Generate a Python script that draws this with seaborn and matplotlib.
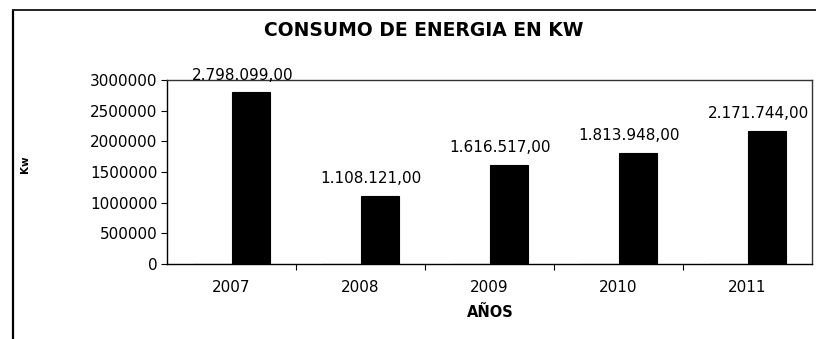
import matplotlib
matplotlib.use("Agg")
import matplotlib.pyplot as plt
from matplotlib.lines import Line2D
from matplotlib.ticker import FixedLocator, FuncFormatter
import seaborn as sns
import pandas as pd

# Data: the year column is charted as its own series next to the consumption
years = ["2007", "2008", "2009", "2010", "2011"]
year_values = [2007, 2008, 2009, 2010, 2011]
consumo_kw = [2798099.00, 1108121.00, 1616517.00, 1813948.00, 2171744.00]
value_labels = ["2.798.099,00", "1.108.121,00", "1.616.517,00", "1.813.948,00", "2.171.744,00"]
y_ticks = [0, 500000, 1000000, 1500000, 2000000, 2500000, 3000000]

df = pd.DataFrame({
    "AÑOS": years * 2,
    "serie": ["AÑOS"] * len(years) + ["Kw"] * len(years),
    "valor": year_values + consumo_kw,
})

sns.set_theme(style="white")
plt.rcParams["font.family"] = ["DejaVu Sans"]

fig = plt.figure(figsize=(8.16, 3.39), dpi=100)
ax = fig.add_axes([167 / 816, 1 - 264 / 339, (812 - 167) / 816, (264 - 80) / 339])

sns.barplot(data=df, x="AÑOS", y="valor", hue="serie", order=years,
            palette=["black", "black"], width=0.59, saturation=1,
            edgecolor="black", linewidth=0.8, legend=False, ax=ax)

ax.set_xlim(-0.5, len(years) - 0.5)
ax.set_ylim(0, 3000000)

# value labels above the consumption bars
kw_bars = ax.containers[1]
for rect, val, txt in zip(kw_bars, consumo_kw, value_labels):
    cx = rect.get_x() + rect.get_width() / 2
    ax.annotate(txt, xy=(cx, val), xytext=(-6, 12.5), textcoords="offset points",
                ha="center", va="center", fontsize=11, color="black")

# axes frame
for side in ["left", "bottom", "top", "right"]:
    ax.spines[side].set_visible(True)
    ax.spines[side].set_color("black")
    ax.spines[side].set_linewidth(1.0)
ax.spines["top"].set_color("#333333")
ax.spines["right"].set_color("#333333")

# y axis
ax.yaxis.set_major_locator(FixedLocator(y_ticks))
ax.yaxis.set_major_formatter(FuncFormatter(lambda v, p: f"{int(v)}"))
ax.tick_params(axis="y", which="major", direction="out", length=4, width=0.8,
               pad=3, labelsize=11, colors="black", left=True)
ax.set_ylabel("Kw", fontsize=7.5, fontweight="bold", color="black")
ax.yaxis.set_label_coords(-0.213, 0.54)

# x axis: labels at category centres, tick marks on category boundaries
ax.tick_params(axis="x", which="major", length=0, pad=11.5, labelsize=11, colors="black")
ax.xaxis.set_minor_locator(FixedLocator([0.5, 1.5, 2.5, 3.5]))
ax.tick_params(axis="x", which="minor", direction="out", length=4, width=0.8,
               color="black", bottom=True)
ax.set_xlabel("AÑOS", fontsize=10.5, fontweight="bold", color="black")
ax.xaxis.set_label_coords(0.502, -0.266)
ax.xaxis.label.set_va("center")

# chart title
fig.text(424 / 816, 1 - 30 / 339, "CONSUMO DE ENERGIA EN KW", ha="center", va="center",
         fontsize=13.5, fontweight="bold", color="black")

# outer chart area border
fig.add_artist(Line2D([13 / 816, 13 / 816], [0, 1 - 10 / 339], transform=fig.transFigure,
                      color="black", linewidth=1.6))
fig.add_artist(Line2D([13 / 816, 1], [1 - 10 / 339, 1 - 10 / 339], transform=fig.transFigure,
                      color="#222222", linewidth=1.4))

fig.savefig("out.png", dpi=100, facecolor="white")
